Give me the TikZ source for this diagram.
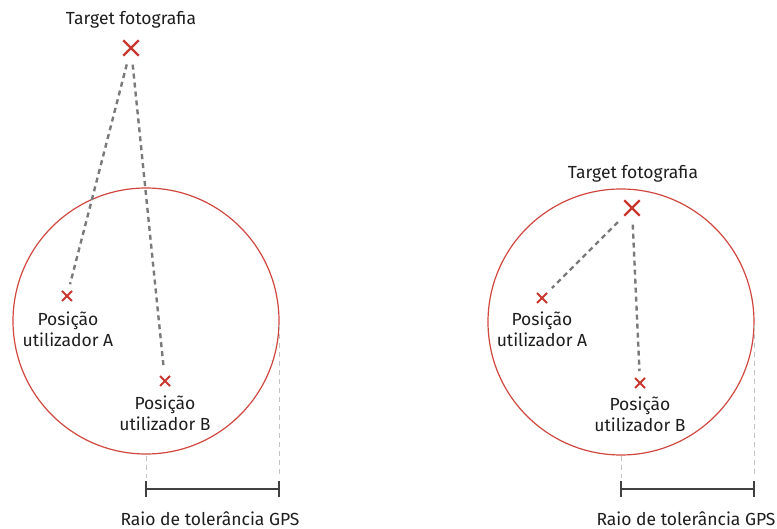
\documentclass[tikz,border=0pt]{standalone}
\usepackage{fontspec}
\setmainfont{Fira Sans}
\usetikzlibrary{shapes.misc}
\definecolor{ring}{HTML}{D0473F}
\definecolor{mark}{HTML}{C8362E}
\definecolor{link}{HTML}{7A7A7A}
\definecolor{guide}{HTML}{C4C4C4}
\definecolor{ink}{HTML}{1E1E1E}
\tikzset{
  ring/.style={draw=ring, line width=1.2pt},
  bigmark/.style={cross out, draw=mark, line width=2.4pt, minimum size=13pt, inner sep=0pt},
  smallmark/.style={cross out, draw=mark, line width=2pt, minimum size=8pt, inner sep=0pt},
  link/.style={draw=link, line width=2.4pt, dash pattern=on 5pt off 4pt, shorten <=9pt, shorten >=7pt},
  guide/.style={draw=guide, line width=1pt, dash pattern=on 5pt off 4pt},
  ruler/.style={draw=ink!85, line width=1.4pt},
  lbl/.style={text=ink, font=\fontsize{17.5pt}{21pt}\selectfont, align=center, inner sep=0pt},
}
\begin{document}
\begin{tikzpicture}[x=1pt, y=-1pt]
\useasboundingbox[fill=white] (0,0) rectangle (777,529);

% ---- left case: target outside the tolerance circle ----
\node[ring, circle, minimum size=266pt, inner sep=0pt] (c1) at (146,321) {};
\node[bigmark] (t1) at (131,48) {};
\node[smallmark] (a1) at (67,296) {};
\node[smallmark] (b1) at (165,381) {};
\node[lbl] (t1l) at (131,20) {Target fotografia};
\node[lbl] (a1l) at (68,329) {Posição\\utilizador A};
\node[lbl] (b1l) at (165,413) {Posição\\utilizador B};
\draw[link] (t1) -- (a1);
\draw[link] (t1) -- (b1);

\coordinate (g1a) at (146,456);
\coordinate (g1b) at (146,478);
\coordinate (g1c) at (279,325);
\coordinate (g1d) at (279,478);
\draw[guide] (g1a) -- (g1b);
\draw[guide] (g1c) -- (g1d);
\coordinate (r1a) at (146,489);
\coordinate (r1b) at (279,489);
\draw[ruler] (r1a) -- (r1b);
\draw[ruler] (146,481) -- (146,497);
\draw[ruler] (279,481) -- (279,497);
\node[lbl] (r1l) at (210,519) {Raio de tolerância GPS};

% ---- right case: target inside the tolerance circle ----
\node[ring, circle, minimum size=266pt, inner sep=0pt] (c2) at (621,322) {};
\node[bigmark] (t2) at (632,208) {};
\node[smallmark] (a2) at (542,298) {};
\node[smallmark] (b2) at (640,383) {};
\node[lbl] (t2l) at (633,174) {Target fotografia};
\node[lbl] (a2l) at (542,329) {Posição\\utilizador A};
\node[lbl] (b2l) at (640,414) {Posição\\utilizador B};
\draw[link] (t2) -- (a2);
\draw[link] (t2) -- (b2);

\coordinate (g2a) at (621,456);
\coordinate (g2b) at (621,478);
\coordinate (g2c) at (754,325);
\coordinate (g2d) at (754,478);
\draw[guide] (g2a) -- (g2b);
\draw[guide] (g2c) -- (g2d);
\coordinate (r2a) at (621,489);
\coordinate (r2b) at (754,489);
\draw[ruler] (r2a) -- (r2b);
\draw[ruler] (621,481) -- (621,497);
\draw[ruler] (754,481) -- (754,497);
\node[lbl] (r2l) at (686,519) {Raio de tolerância GPS};
\end{tikzpicture}
\end{document}
